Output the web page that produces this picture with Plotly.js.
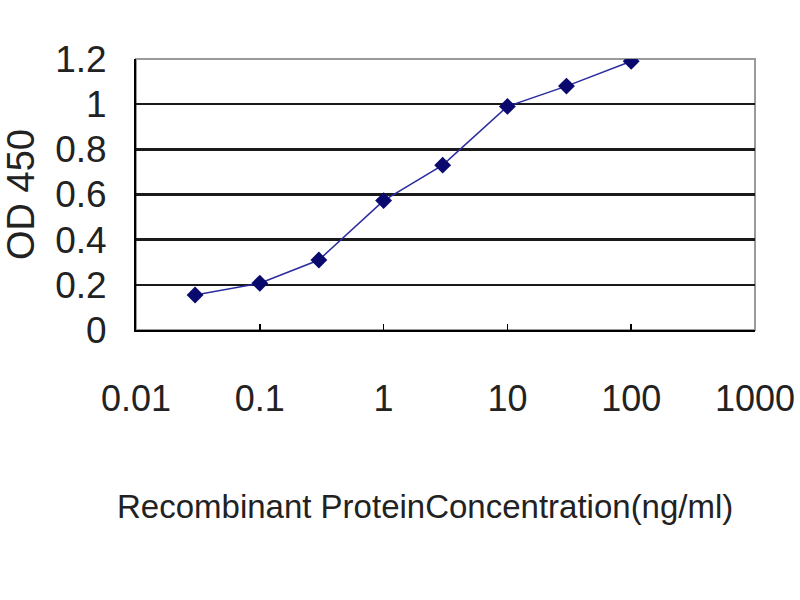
<!DOCTYPE html>
<html>
<head>
<meta charset="utf-8">
<script src="https://cdn.plot.ly/plotly-3.0.1.min.js"></script>
<style>html,body{margin:0;padding:0;background:#fff;}#chart{width:800px;height:600px;}</style>
</head>
<body>
<div id="chart"></div>
<script>
const concentrations = [0.03, 0.1, 0.3, 1, 3, 10, 30, 100];
const od450 = [0.155, 0.207, 0.31, 0.573, 0.73, 0.99, 1.08, 1.19];
const xTickVals = [0.01, 0.1, 1, 10, 100, 1000];
const xTickText = ["0.01", "0.1", "1", "10", "100", "1000"];
const yTickVals = [0, 0.2, 0.4, 0.6, 0.8, 1, 1.2];
const yTickText = ["0", "0.2", "0.4", "0.6", "0.8", "1", "1.2"];
const yGridVals = [0.2, 0.4, 0.6, 0.8, 1];
const xTitle = 'Recombinant ProteinConcentration(ng/ml)';
const yTitle = 'OD 450';

const FONT = '"Liberation Sans", Arial, sans-serif';

const trace = {
  x: concentrations,
  y: od450,
  type: 'scatter',
  mode: 'lines+markers',
  line: {color: '#2b2ba0', width: 1.5},
  marker: {symbol: 'diamond', size: 13, color: '#0a0a6e'},
  hoverinfo: 'x+y'
};

const layout = {
  width: 800,
  height: 600,
  margin: {l: 136, r: 45, t: 59, b: 270},
  paper_bgcolor: '#ffffff',
  plot_bgcolor: '#ffffff',
  showlegend: false,
  font: {family: FONT, color: '#222'},
  xaxis: {
    type: 'log',
    range: [-2, 3],
    tickvals: xTickVals,
    ticktext: xTickText,
    ticks: 'inside',
    ticklen: 6,
    tickwidth: 1.5,
    tickcolor: '#000',
    showgrid: false,
    zeroline: false,
    showline: true,
    linecolor: '#000',
    linewidth: 2,
    ticklabelstandoff: 36,
    tickfont: {family: FONT, size: 36, color: '#222'}
  },
  yaxis: {
    range: [0, 1.2],
    tickvals: yTickVals,
    ticktext: yTickText,
    ticks: '',
    showgrid: false,
    zeroline: false,
    showline: true,
    linecolor: '#000',
    linewidth: 2,
    ticklabelstandoff: 20,
    tickfont: {family: FONT, size: 37, color: '#222'},
    title: {text: yTitle, font: {family: FONT, size: 38, color: '#222'}, standoff: 14}
  },
  yaxis2: {
    overlaying: 'y',
    range: [0, 1.2],
    tickvals: yGridVals,
    showticklabels: false,
    ticks: '',
    showgrid: true,
    gridcolor: '#1a1a1a',
    gridwidth: 2.5,
    zeroline: false,
    showline: false
  },
  annotations: [{
    text: xTitle, xref: 'paper', yref: 'paper', x: 0.467, y: -0.65,
    xanchor: 'center', yanchor: 'middle', showarrow: false,
    font: {family: FONT, size: 33, color: '#222'}
  }],
  shapes: [{
    type: 'rect', xref: 'paper', yref: 'paper', x0: 0, x1: 1, y0: 0, y1: 1,
    line: {color: '#9a9a9a', width: 2}, layer: 'below'
  }]
};

const gridTrace = {x: [], y: [], yaxis: 'y2', type: 'scatter', hoverinfo: 'skip', showlegend: false};

Plotly.newPlot('chart', [gridTrace, trace], layout, {displayModeBar: false, staticPlot: true});
</script>
</body>
</html>
